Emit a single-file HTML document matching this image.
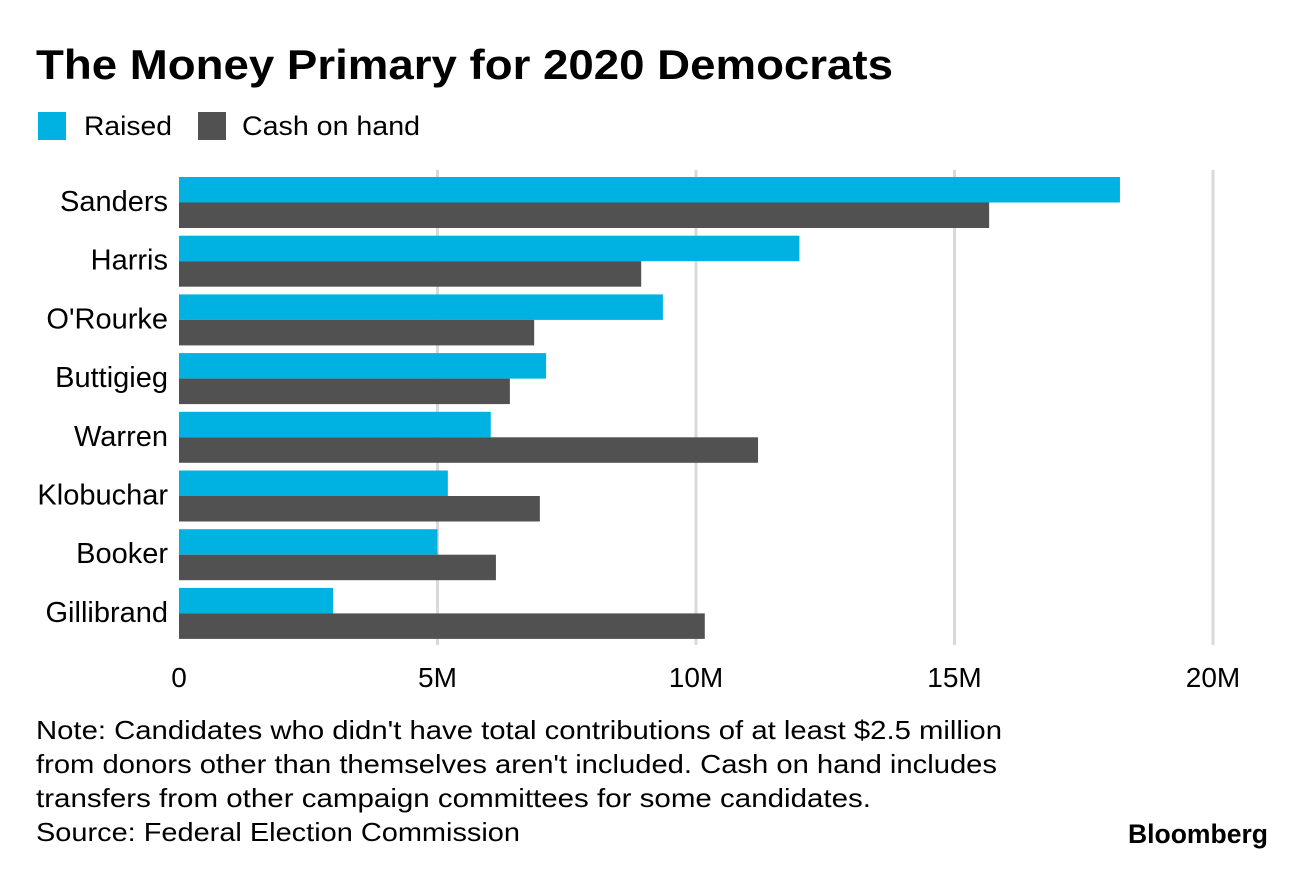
<!DOCTYPE html>
<html><head><meta charset="utf-8"><style>
body{margin:0;background:#fff;width:1296px;height:864px;overflow:hidden;font-family:"Liberation Sans",sans-serif}
</style></head><body>
<svg width="1296" height="864" xmlns="http://www.w3.org/2000/svg" font-family="Liberation Sans, sans-serif">
<text x="36" y="79" font-size="42" font-weight="bold" fill="#000" textLength="857" lengthAdjust="spacingAndGlyphs">The Money Primary for 2020 Democrats</text>
<g>
<rect x="38" y="112" width="28" height="28" fill="#00b2e2"/>
<text x="84" y="135" font-size="27" fill="#000" textLength="88" lengthAdjust="spacingAndGlyphs">Raised</text>
<rect x="198" y="112" width="28" height="28" fill="#515151"/>
<text x="242" y="135" font-size="27" fill="#000" textLength="178" lengthAdjust="spacingAndGlyphs">Cash on hand</text>
</g>
<g id="grid"></g><g id="bars"></g><g id="labels"></g><g id="ticks"></g>
<g font-size="26" fill="#000">
<text x="36" y="739" textLength="966" lengthAdjust="spacingAndGlyphs">Note: Candidates who didn't have total contributions of at least $2.5 million</text>
<text x="36" y="773" textLength="961" lengthAdjust="spacingAndGlyphs">from donors other than themselves aren't included. Cash on hand includes</text>
<text x="36" y="807" textLength="835" lengthAdjust="spacingAndGlyphs">transfers from other campaign committees for some candidates.</text>
<text x="36" y="841" textLength="484" lengthAdjust="spacingAndGlyphs">Source: Federal Election Commission</text>
</g>
<text x="1128" y="843" font-size="27" font-weight="bold" fill="#000" textLength="140" lengthAdjust="spacingAndGlyphs">Bloomberg</text>
</svg>
<script>
const candidates=["Sanders","Harris","O'Rourke","Buttigieg","Warren","Klobuchar","Booker","Gillibrand"];
const raised=[18.2,12.0,9.36,7.1,6.03,5.2,5.0,2.98];
const cash=[15.67,8.94,6.87,6.4,11.2,6.98,6.13,10.17];
const tickValues=[0,5,10,15,20];
const tickLabels=["0","5M","10M","15M","20M"];
const NS="http://www.w3.org/2000/svg";
const x=v=>179+v*51.7;
const rowY=i=>177+i*58.7;
function mk(tag,attrs,parent){const e=document.createElementNS(NS,tag);for(const k in attrs)e.setAttribute(k,attrs[k]);document.getElementById(parent).appendChild(e);return e;}
tickValues.forEach((t,i)=>{
 if(i>0){const l=mk('line',{x1:x(t),x2:x(t),y1:170,y2:645,stroke:'#d9d9d9','stroke-width':3},'grid');
 
 }
 const tx=mk('text',{x:x(t),y:687,'font-size':28,'text-anchor':'middle',fill:'#000'},'ticks');
 tx.textContent=tickLabels[i];
 
 
});
candidates.forEach((c,i)=>{
 const y=rowY(i);
 const r=mk('rect',{x:x(0),y:y,width:x(raised[i])-x(0),height:25.5,fill:'#00b2e2'},'bars');
 
 
 const b=mk('rect',{x:x(0),y:y+25.5,width:x(cash[i])-x(0),height:25.5,fill:'#515151'},'bars');
 
 
 const t=mk('text',{x:168,y:y+34,'font-size':29,'text-anchor':'end',fill:'#000'},'labels');
 t.textContent=c;
 
 
});
</script>
</body></html>
